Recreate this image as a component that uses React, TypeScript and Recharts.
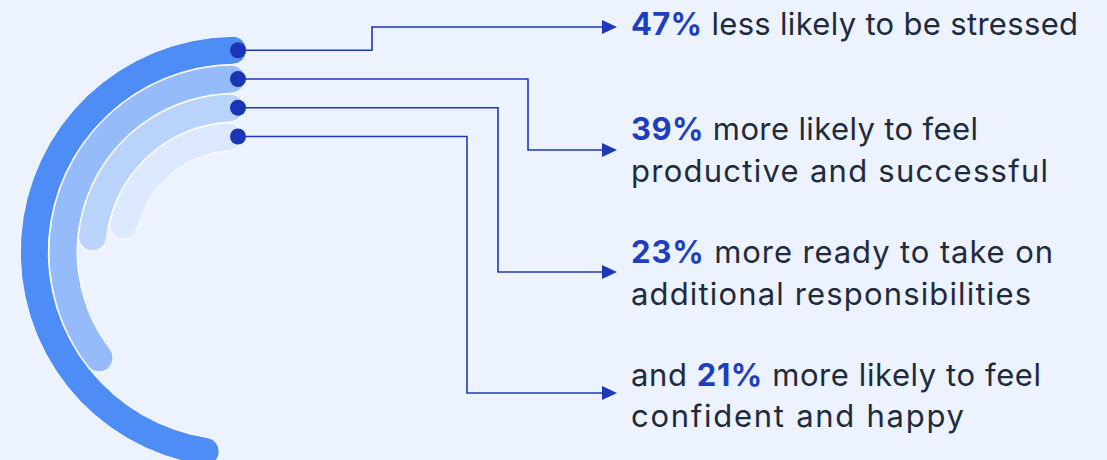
import React from 'react';
import { RadialBarChart, RadialBar, PolarAngleAxis, Sector } from 'recharts';

// stats, top ring first
const statPct = [47, 39, 23, 21];
const leadWords = ['', '', '', 'and '];
const firstLines = ['less likely to be stressed', 'more likely to feel', 'more ready to take on', 'more likely to feel'];
const secondLines = ['', 'productive and successful', 'additional responsibilities', 'confident and happy'];

const arcShare = [49.5, 37.6, 25.7, 24.0];
const ringColors = ['#4F8DF6', '#96BBFA', '#BAD3FB', '#DCE8FD'];

// layout
const W = 1107;
const H = 460;
const BG = '#ECF3FE';
const INK = '#1E38B8';
const elbowX = [372, 528, 498, 467];
const arrowY = [27, 150, 272, 393];
const tipX = 617;
const textX = 631;
const lineY = [[35], [140, 182], [263, 305], [386, 427]];
const lineW = [[447], [347, 417], [422, 400], [410, 333]];

const chartData = arcShare
  .map((v, i) => ({ rank: i, arc: v, fill: ringColors[i] }))
  .reverse();

const RingShape = (props: any) => {
  const { cx, cy, innerRadius, outerRadius, payload } = props;
  const i = payload.rank;
  const midR = (innerRadius + outerRadius) / 2;
  const dx = cx + 2;
  const dy = cy - midR;
  const ay = arrowY[i];
  return (
    <g>
      <Sector {...props} />
      <path
        d={`M${dx},${dy} H${elbowX[i]} V${ay} H${tipX - 12}`}
        fill="none"
        stroke={INK}
        strokeWidth={1.6}
      />
      <polygon points={`${tipX - 15},${ay - 7} ${tipX},${ay} ${tipX - 15},${ay + 7}`} fill={INK} />
      <circle cx={dx} cy={dy} r={8} fill="#1A36B4" />
    </g>
  );
};

export default function App() {
  return (
    <div style={{ position: 'absolute', left: 0, top: 0, width: W, height: H, background: BG }}>
      <RadialBarChart
        width={W}
        height={H}
        cx={236}
        cy={252}
        innerRadius={101.5}
        outerRadius={216.5}
        startAngle={87}
        endAngle={447}
        barSize={28}
        data={chartData}
        margin={{ top: 0, right: 0, bottom: 0, left: 0 }}
      >
        <PolarAngleAxis type="number" domain={[0, 100]} tick={false} axisLine={false} />
        <RadialBar
          dataKey="arc"
          cornerRadius={14}
          stroke="#ffffff"
          strokeWidth={1}
          shape={RingShape}
          isAnimationActive={false}
        />
      </RadialBarChart>
      <svg
        width={W}
        height={H}
        style={{ position: 'absolute', left: 0, top: 0, pointerEvents: 'none' }}
        fontFamily="Inter, 'Open Sans', sans-serif"
        fontSize={31}
      >
        {statPct.map((p, i) => (
          <g key={i}>
            <text x={textX} y={lineY[i][0]} textLength={lineW[i][0]} lengthAdjust="spacing" fill="#1F2A3D">
              {leadWords[i] && <tspan>{leadWords[i]}</tspan>}
              <tspan fill="#1E3EBF" fontWeight={700}>{`${p}%`}</tspan>
              <tspan>{` ${firstLines[i]}`}</tspan>
            </text>
            {secondLines[i] && (
              <text x={textX} y={lineY[i][1]} textLength={lineW[i][1]} lengthAdjust="spacing" fill="#1F2A3D">
                {secondLines[i]}
              </text>
            )}
          </g>
        ))}
      </svg>
    </div>
  );
}
